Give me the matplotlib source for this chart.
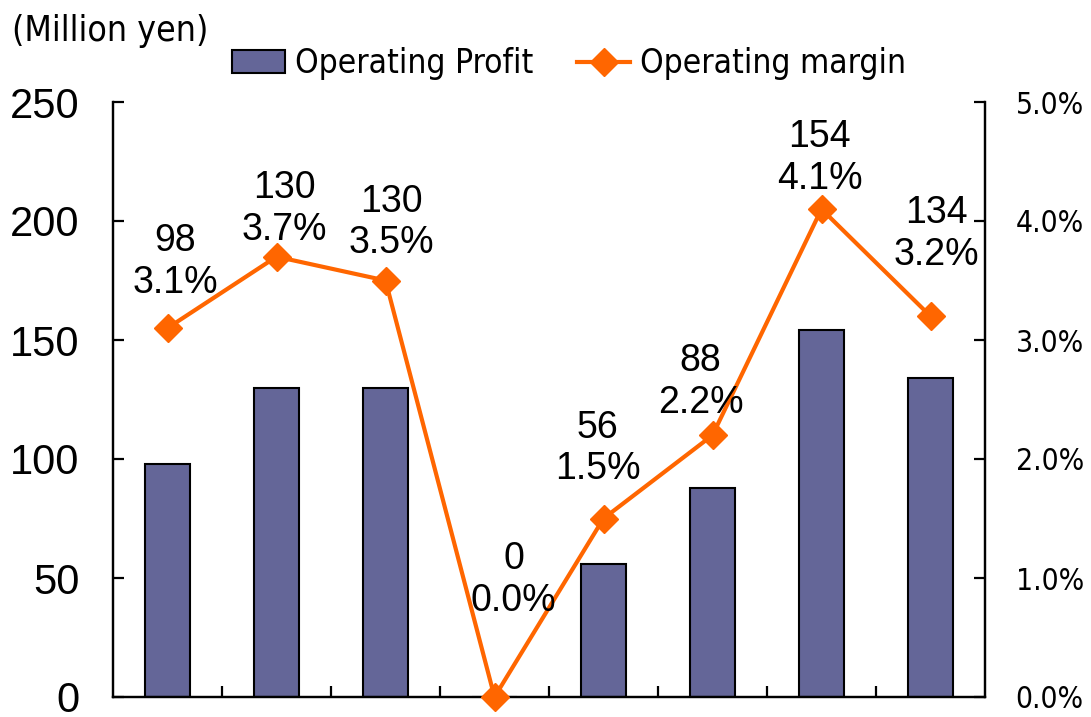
import matplotlib
matplotlib.use("Agg")
import matplotlib.pyplot as plt
from matplotlib.ticker import FixedLocator, FuncFormatter
from matplotlib import font_manager as fm

# ---- data ----
profit = [98, 130, 130, 0, 56, 88, 154, 134]
margin = [3.1, 3.7, 3.5, 0.0, 1.5, 2.2, 4.1, 3.2]
left_ticks = [0, 50, 100, 150, 200, 250]
right_ticks = [0.0, 1.0, 2.0, 3.0, 4.0, 5.0]
bar_label = "Operating Profit"
line_label = "Operating margin"
unit_label = "(Million yen)"

# label offsets (pixels) for each point annotation
lab_dx = [8, 8, 6, 19, -6, -12, -2, 6]
lab_dy = [66, 48, 58, 117, 70, 53, 51, 82]

BAR_C = "#646698"
LINE_C = "#FF6600"
NUM_FONT = ["Liberation Sans", "DejaVu Sans"]

goth = fm.FontProperties(family="DejaVu Sans", stretch="condensed", size=24)
goth_unit = fm.FontProperties(family="DejaVu Sans", stretch="condensed", size=25.5)
goth_tick = fm.FontProperties(family="DejaVu Sans", stretch="condensed", size=21.5)

fig = plt.figure(figsize=(10.91, 7.17), dpi=100)
L, R, B, T = 113/1091, 985/1091, 1-697/717, 1-102/717
ax = fig.add_axes([L, B, R-L, T-B])
ax2 = ax.twinx()

x = list(range(len(profit)))
bars = ax.bar(x, profit, width=0.42, color=BAR_C, edgecolor="black", linewidth=1.5, zorder=2)
ax.set_xlim(-0.5, len(profit)-0.5)
ax.set_ylim(0, 250)
ax.yaxis.set_major_locator(FixedLocator(left_ticks))
ax2.set_ylim(0, 5.0)
ax2.yaxis.set_major_locator(FixedLocator(right_ticks))
ax2.yaxis.set_major_formatter(FuncFormatter(lambda v, p: f"{v:.1f}%"))

line, = ax2.plot(x, margin, color=LINE_C, linewidth=3, marker="D", markersize=14,
                 clip_on=False, zorder=3)

for i in x:
    ax2.annotate(f"{profit[i]}\n{margin[i]:.1f}%", (x[i], margin[i]),
                 xytext=(lab_dx[i], lab_dy[i]), textcoords="offset pixels",
                 ha="center", va="center", fontsize=27, family=NUM_FONT,
                 linespacing=1.2, zorder=4)

for a in (ax, ax2):
    a.spines["top"].set_visible(False)
    for s in ("left", "right", "bottom"):
        a.spines[s].set_linewidth(1.6)

ax.set_xticks([])
ax.set_xticks([i + 0.5 for i in x[:-1]], minor=True)
ax.tick_params(axis="x", which="minor", direction="in", length=8, width=1.6)
ax.tick_params(axis="y", direction="in", length=8, width=1.6, pad=24, labelsize=30)
ax2.tick_params(axis="y", direction="in", length=8, width=1.6, pad=22, labelsize=21.5)
for t in ax.get_yticklabels():
    t.set_family(NUM_FONT)
for t in ax2.get_yticklabels():
    t.set_fontproperties(goth_tick)
    t.set_horizontalalignment("left")

fig.text(12/1091, 1-31/717, unit_label, fontproperties=goth_unit,
         ha="left", va="center")

fig.legend([bars, line], [bar_label, line_label], ncol=2, frameon=False,
           loc="center left", bbox_to_anchor=(232/1091, 1-64/717), borderpad=0,
           borderaxespad=0, handlelength=1.6, handleheight=0.67, handletextpad=0.3,
           columnspacing=1.3, prop=goth)

fig.savefig("out.png", dpi=100)
